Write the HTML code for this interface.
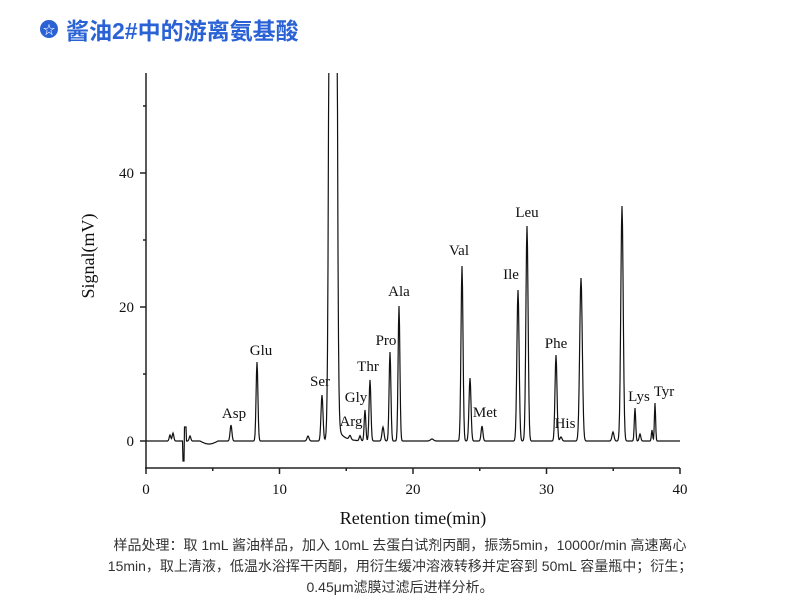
<!DOCTYPE html>
<html><head><meta charset="utf-8"><style>
html,body{margin:0;padding:0;background:#fff;width:800px;height:610px;overflow:hidden}
.t{position:absolute;left:40px;top:12px;font:bold 23px "Liberation Sans","Noto Sans CJK SC",sans-serif;color:#2a62d6;display:flex;align-items:center}
.ic{width:18px;height:18px;border-radius:50%;background:#2a62d6;color:#fff;font-size:12px;display:inline-flex;align-items:center;justify-content:center;margin-right:8px}
.cap{position:absolute;left:0;width:800px;top:535px;text-align:center;font:14px/21px "Liberation Sans","Noto Sans CJK SC",sans-serif;color:#333}
svg{position:absolute;left:0;top:0}
</style></head><body>
<div class="t"><span class="ic">☆</span>酱油2#中的游离氨基酸</div>
<svg width="800" height="610" font-family="Liberation Serif, serif" fill="#111">
<defs><clipPath id="c"><rect x="140" y="73" width="560" height="420"/></clipPath></defs>
<g stroke="#222" stroke-width="1.5" fill="none">
<line x1="146" y1="73" x2="146" y2="469"/>
<line x1="145" y1="468" x2="680" y2="468"/>
<line x1="140" y1="441" x2="146" y2="441"/><line x1="140" y1="307" x2="146" y2="307"/><line x1="140" y1="173" x2="146" y2="173"/>
<line x1="143" y1="374" x2="146" y2="374"/><line x1="143" y1="240" x2="146" y2="240"/><line x1="143" y1="106" x2="146" y2="106"/>
<line x1="146" y1="468" x2="146" y2="474"/><line x1="279.5" y1="468" x2="279.5" y2="474"/><line x1="413" y1="468" x2="413" y2="474"/><line x1="546.5" y1="468" x2="546.5" y2="474"/><line x1="680" y1="468" x2="680" y2="474"/>
<line x1="212.75" y1="468" x2="212.75" y2="471"/><line x1="346.25" y1="468" x2="346.25" y2="471"/><line x1="479.75" y1="468" x2="479.75" y2="471"/><line x1="613.25" y1="468" x2="613.25" y2="471"/>
</g>
<g font-size="15" text-anchor="end"><text x="134" y="446">0</text><text x="134" y="312">20</text><text x="134" y="178">40</text></g>
<g font-size="15" text-anchor="middle"><text x="146" y="494">0</text><text x="279.5" y="494">10</text><text x="413" y="494">20</text><text x="546.5" y="494">30</text><text x="680" y="494">40</text></g>
<text x="413" y="524" font-size="18" text-anchor="middle">Retention time(min)</text>
<text transform="translate(94,256) rotate(-90)" font-size="18" text-anchor="middle">Signal(mV)</text>
<g font-size="15" text-anchor="middle">
<text x="234" y="418">Asp</text><text x="261" y="355">Glu</text><text x="320" y="386">Ser</text>
<text x="351" y="426">Arg</text><text x="356" y="402">Gly</text><text x="368" y="371">Thr</text>
<text x="386" y="345">Pro</text><text x="399" y="296">Ala</text><text x="459" y="255">Val</text>
<text x="485" y="417">Met</text><text x="511" y="279">Ile</text><text x="527" y="217">Leu</text>
<text x="556" y="348">Phe</text><text x="565" y="428">His</text><text x="639" y="401">Lys</text><text x="664" y="396">Tyr</text>
</g>
<path id="p" fill="none" stroke="#111" stroke-width="1.2" clip-path="url(#c)"/>
</svg>
<div class="cap">样品处理：取 1mL 酱油样品，加入 10mL 去蛋白试剂丙酮，振荡5min，10000r/min 高速离心<br>15min，取上清液，低温水浴挥干丙酮，用衍生缓冲溶液转移并定容到 50mL 容量瓶中；衍生；<br>0.45μm滤膜过滤后进样分析。</div>
<script>
var pk=[[170,6,0.8],[173,8,0.8],[190,5,0.8],[231,16,0.9],[257,79,0.9],[308,5,1],[322,46,1],[333,4000,2],[350,4,1],[360,5,0.8],[365,31,0.8],[370,61,0.9],[383,14,1],[390,89,0.9],[399,135,0.9],[432,2,1.5],[462,175,1],[470,63,1],[482,15,0.9],[518,151,1.1],[527,215,1.1],[556,86,1],[561,4,1],[581,163,1.3],[613,9,1],[622,235,1.2],[635,33,0.7],[640,7,0.8],[652,11,0.6],[655,38,0.6]];
var d="";
for(var x=146;x<=680;x+=0.5){var h=0;
for(var i=0;i<pk.length;i++){var u=(x-pk[i][0])/pk[i][2];if(Math.abs(u)<6)h+=pk[i][1]*Math.exp(-u*u/2);}
if(x>337)h+=14*Math.exp(-(x-337)/6);
if(x>200&&x<218)h+=-3*Math.sin((x-200)/18*Math.PI);
if(x>=183&&x<=186)h+=(x<184.5?-20:14);
var y=441-h;if(y<40)y=40;
d+=(x==146?"M":"L")+x+","+y.toFixed(1);}
document.getElementById("p").setAttribute("d",d);
</script>
</body></html>
